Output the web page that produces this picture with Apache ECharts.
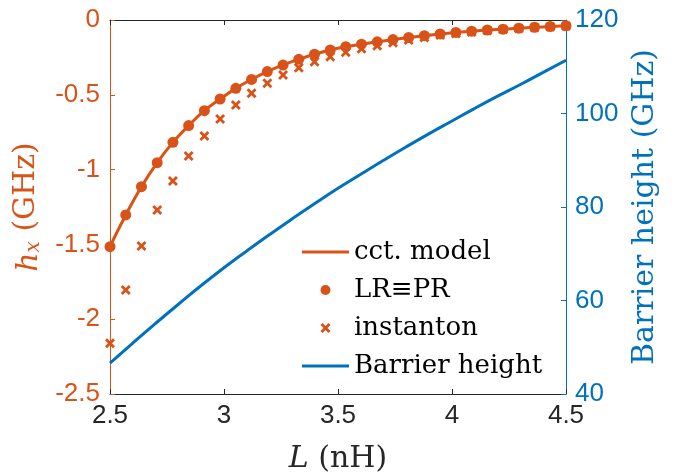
<!DOCTYPE html>
<html>
<head>
<meta charset="utf-8">
<script src="https://cdn.jsdelivr.net/npm/echarts@6/dist/echarts.min.js"></script>
<style>html,body{margin:0;padding:0;background:#fff;}#c{width:680px;height:475px;}</style>
</head>
<body>
<div id="c"></div>
<script>
// L values (nH) of the markers
var L = [2.5, 2.569, 2.638, 2.707, 2.776, 2.845, 2.914, 2.983, 3.052, 3.121,
         3.190, 3.259, 3.328, 3.397, 3.466, 3.534, 3.603, 3.672, 3.741, 3.810,
         3.879, 3.948, 4.017, 4.086, 4.155, 4.224, 4.293, 4.362, 4.431, 4.5];
// cct. model / LR≡PR values h_x (GHz)
var hxModel = [-1.515, -1.303, -1.114, -0.954, -0.818, -0.706, -0.606, -0.528, -0.457, -0.397,
               -0.345, -0.301, -0.263, -0.229, -0.200, -0.178, -0.162, -0.146, -0.131, -0.117,
               -0.105, -0.093, -0.083, -0.075, -0.067, -0.061, -0.055, -0.049, -0.044, -0.039];
var hxLR = [-1.515, -1.303, -1.114, -0.954, -0.818, -0.706, -0.606, -0.528, -0.457, -0.397,
            -0.345, -0.301, -0.263, -0.229, -0.200, -0.178, -0.162, -0.146, -0.131, -0.117,
            -0.105, -0.093, -0.083, -0.075, -0.067, -0.061, -0.055, -0.049, -0.044, -0.039];
// instanton values h_x (GHz)
var hxInst = [-2.161, -1.805, -1.511, -1.270, -1.076, -0.909, -0.775, -0.662, -0.568, -0.490,
              -0.423, -0.368, -0.319, -0.279, -0.245, -0.216, -0.192, -0.172, -0.152, -0.134,
              -0.117, -0.101, -0.090, -0.080, -0.071, -0.063, -0.056, -0.050, -0.045, -0.040];
// Barrier height curve
var Lb = [2.5, 2.6, 2.7, 2.8, 2.9, 3.0, 3.1, 3.2, 3.3, 3.4, 3.5, 3.6, 3.7, 3.8, 3.9, 4.0, 4.1, 4.2, 4.3, 4.4, 4.5];
var barrier = [46.6, 50.9, 55.1, 59.2, 63.2, 67.0, 70.6, 74.1, 77.5, 80.8, 84.0, 87.0, 90.0, 92.9, 95.7, 98.4, 101.1, 103.7, 106.2, 108.8, 111.4];

var ORANGE = '#D95319', BLUE = '#0072BD', DARK = '#262626';
var SERIF = '"DejaVu Serif", serif';
var SANS = '"Liberation Sans", Arial, sans-serif';

function pairs(xs, ys) { return xs.map(function (x, i) { return [x, ys[i]]; }); }

var cross = 'path://M0,2 L2,0 L5,3 L8,0 L10,2 L7,5 L10,8 L8,10 L5,7 L2,10 L0,8 L3,5 Z';
var lineIcon = 'path://M0,0 L47,0 L47,3 L0,3 Z';

var chart = echarts.init(document.getElementById('c'), null, {renderer: 'canvas'});
chart.setOption({
  animation: false,
  backgroundColor: '#fff',
  grid: {left: 110, right: 114, top: 20, bottom: 81, containLabel: false, outerBoundsMode: 'none'},
  legend: {
    orient: 'vertical', left: 297, top: 232,
    itemWidth: 47, itemHeight: 10, itemGap: 8,
    textStyle: {fontFamily: SERIF, fontSize: 26, color: '#000', lineHeight: 30},
    data: [
      {name: 'cct. model', icon: lineIcon},
      {name: 'LR≡PR', icon: 'circle'},
      {name: 'instanton', icon: cross},
      {name: 'Barrier height', icon: lineIcon}
    ]
  },
  xAxis: [{
    type: 'value', min: 2.5, max: 4.5, interval: 0.5, position: 'bottom',
    axisLine: {show: true, onZero: false, lineStyle: {color: DARK, width: 1}},
    axisTick: {show: true, inside: true, length: 5, lineStyle: {color: DARK}},
    axisLabel: {color: DARK, fontFamily: SANS, fontSize: 26, margin: 9},
    splitLine: {show: false},
    name: '{i|L} (nH)', nameLocation: 'middle', nameGap: 50,
    nameTextStyle: {fontFamily: SERIF, fontSize: 30, color: DARK,
      rich: {i: {fontFamily: SERIF, fontStyle: 'italic', fontSize: 30, color: DARK}}}
  }, {
    type: 'value', min: 2.5, max: 4.5, interval: 0.5, position: 'top',
    axisLine: {show: true, onZero: false, lineStyle: {color: DARK, width: 1}},
    axisTick: {show: true, inside: true, length: 5, lineStyle: {color: DARK}},
    axisLabel: {show: false}, splitLine: {show: false}
  }],
  yAxis: [{
    type: 'value', min: -2.5, max: 0, interval: 0.5, position: 'left',
    axisLine: {show: true, onZero: false, lineStyle: {color: ORANGE, width: 1}},
    axisTick: {show: true, inside: true, length: 5, lineStyle: {color: ORANGE}},
    axisLabel: {color: ORANGE, fontFamily: SANS, fontSize: 26, margin: 10},
    splitLine: {show: false},
    name: '{i|h}{s|x} (GHz)', nameLocation: 'middle', nameGap: 66, nameRotate: 90,
    nameTextStyle: {fontFamily: SERIF, fontSize: 30, color: ORANGE,
      rich: {
        i: {fontFamily: SERIF, fontStyle: 'italic', fontSize: 30, color: ORANGE, lineHeight: 36, verticalAlign: 'bottom'},
        s: {fontFamily: SERIF, fontStyle: 'italic', fontSize: 20, color: ORANGE, verticalAlign: 'bottom', lineHeight: 20}
      }}
  }, {
    type: 'value', min: 40, max: 120, interval: 20, position: 'right',
    axisLine: {show: true, onZero: false, lineStyle: {color: BLUE, width: 1}},
    axisTick: {show: true, inside: true, length: 5, lineStyle: {color: BLUE}},
    axisLabel: {color: BLUE, fontFamily: SANS, fontSize: 26, margin: 9},
    splitLine: {show: false},
    name: 'Barrier height (GHz)', nameLocation: 'middle', nameGap: 64, nameRotate: 90,
    nameTextStyle: {fontFamily: SERIF, fontSize: 30, color: BLUE}
  }],
  series: [{
    name: 'Barrier height', type: 'line', xAxisIndex: 0, yAxisIndex: 1,
    data: pairs(Lb, barrier), symbol: 'none', smooth: true,
    lineStyle: {color: BLUE, width: 3}, itemStyle: {color: BLUE, opacity: 1}, z: 2
  }, {
    name: 'cct. model', type: 'line', xAxisIndex: 0, yAxisIndex: 0,
    data: pairs(L, hxModel), symbol: 'none', smooth: true,
    lineStyle: {color: ORANGE, width: 3}, itemStyle: {color: ORANGE, opacity: 1}, z: 3
  }, {
    name: 'instanton', type: 'scatter', xAxisIndex: 0, yAxisIndex: 0,
    data: pairs(L, hxInst), symbol: cross, symbolSize: 10,
    itemStyle: {color: ORANGE, opacity: 1}, z: 4
  }, {
    name: 'LR≡PR', type: 'scatter', xAxisIndex: 0, yAxisIndex: 0,
    data: pairs(L, hxLR), symbol: 'circle', symbolSize: 11,
    itemStyle: {color: ORANGE, opacity: 1}, z: 5
  }]
});
</script>
</body>
</html>
